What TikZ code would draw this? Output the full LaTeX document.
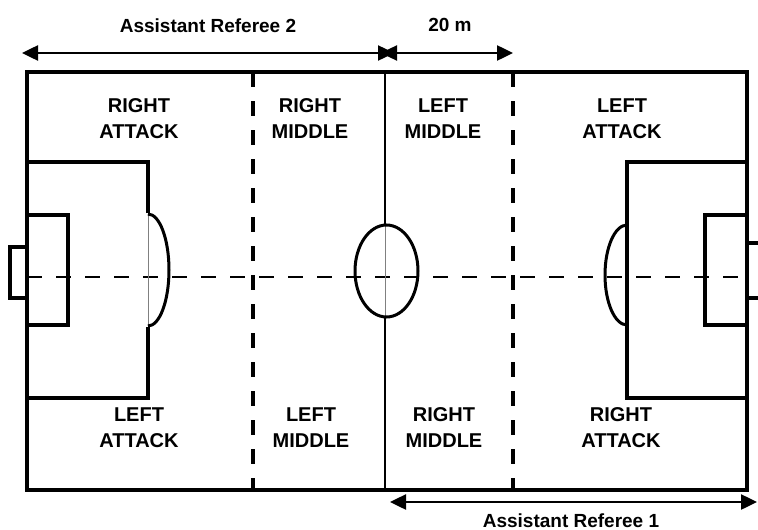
\documentclass[tikz,border=0pt]{standalone}
\usepackage{fontspec}
\setmainfont{Liberation Sans}
\usetikzlibrary{arrows.meta}
\begin{document}
\begin{tikzpicture}[x=1pt,y=-1pt,line join=miter,
  field/.style={line width=4pt},
  boxline/.style={line width=3.5pt},
  half/.style={line width=1.6pt},
  zonedash/.style={line width=4pt,dash pattern=on 15pt off 14pt},
  axisdash/.style={line width=2.5pt,dash pattern=on 15pt off 14pt},
  refarrow/.style={line width=2.5pt,{Triangle[length=16pt,width=15pt]}-{Triangle[length=16pt,width=15pt]}},
  zone/.style={font=\bfseries\fontsize{20}{26}\selectfont,align=center,inner sep=0pt},
  lab/.style={font=\bfseries\fontsize{19}{23}\selectfont,inner sep=0pt,anchor=base}]
\useasboundingbox (0,0) rectangle (758,530);
\fill[white] (0,0) rectangle (758,530);
% pitch
\draw[axisdash] (27,277) -- (747,277);
\draw[zonedash] (253,72) -- (253,490);
\draw[zonedash] (513,72) -- (513,490);
\draw[half] (385,72) -- (385,225);
\draw[half] (385,317) -- (385,490);
\draw[line width=1pt,gray] (385,225) -- (385,317);
\draw[line width=3pt] (386.5,271) ellipse [x radius=31.5,y radius=46];
% left end
\draw[boxline] (148,213) -- (148,162) -- (27,162);
\draw[boxline] (148,327) -- (148,398) -- (27,398);
\draw[line width=1pt,gray] (148,213) -- (148,327);
\draw[line width=3pt] (148,214) arc[start angle=-90,end angle=90,x radius=21,y radius=56];
\draw[boxline] (27,215) rectangle (68,325);
\draw[boxline] (27,247) -- (10,247) -- (10,298) -- (27,298);
% right end
\draw[boxline] (747,162) -- (627,162) -- (627,398) -- (747,398);
\draw[line width=3pt] (627,225) arc[start angle=270,end angle=90,x radius=22,y radius=50];
\draw[boxline] (747,215) -- (705,215) -- (705,325) -- (747,325);
\draw[boxline] (766,243) -- (747,243) -- (747,298) -- (766,298);
\draw[field] (27,72) rectangle (747,490);
% zone labels
\node[zone] (ra1) at (139,119) {RIGHT\\ATTACK};
\node[zone] (rm1) at (310,119) {RIGHT\\MIDDLE};
\node[zone] (lm1) at (443,119) {LEFT\\MIDDLE};
\node[zone] (la1) at (622,119) {LEFT\\ATTACK};
\node[zone] (la2) at (139,428) {LEFT\\ATTACK};
\node[zone] (lm2) at (311,428) {LEFT\\MIDDLE};
\node[zone] (rm2) at (444,428) {RIGHT\\MIDDLE};
\node[zone] (ra2) at (621,428) {RIGHT\\ATTACK};
% referee arrows
\coordinate (a2l) at (22,53);
\coordinate (a2r) at (394,53);
\coordinate (m20l) at (381,53);
\coordinate (m20r) at (513,53);
\coordinate (a1l) at (390,502);
\coordinate (a1r) at (757,502);
\draw[refarrow] (a2l) -- (a2r);
\draw[refarrow] (m20l) -- (m20r);
\draw[refarrow] (a1l) -- (a1r);
\node[lab] (ar2) at (208,32) {Assistant Referee 2};
\node[lab] (d20) at (450,31) {20 m};
\node[lab] (ar1) at (571,527) {Assistant Referee 1};
\end{tikzpicture}
\end{document}
